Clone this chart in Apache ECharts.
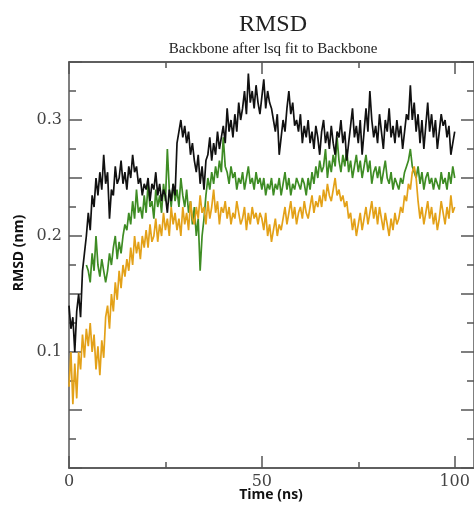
<!DOCTYPE html>
<html><head><meta charset="utf-8">
<script src="https://cdn.jsdelivr.net/npm/echarts@6/dist/echarts.min.js"></script>
<style>html,body{margin:0;padding:0;background:#fff}#c{width:474px;height:505px}</style>
</head><body><div id="c"></div>
<script>
// time step of the sampled points (ns)
const STEP = 0.5;
const titleText = 'RMSD';
const subtitleText = 'Backbone after lsq fit to Backbone';
const xName = 'Time (ns)';
const yName = 'RMSD (nm)';
const xMajorTicks = [0, 50, 100];
const xMinorTicks = [25, 75];
const yLabelTicks = [0.1, 0.2, 0.3];

const black = [
0.14,0.12,0.13,0.10,0.135,0.15,0.13,0.17,0.185,0.2,
0.22,0.205,0.235,0.225,0.25,0.235,0.255,0.24,0.27,0.245,
0.255,0.215,0.24,0.235,0.26,0.245,0.25,0.265,0.245,0.255,
0.24,0.26,0.25,0.27,0.255,0.26,0.245,0.25,0.235,0.245,
0.24,0.25,0.23,0.245,0.24,0.255,0.235,0.245,0.23,0.24,
0.235,0.22,0.24,0.23,0.245,0.235,0.28,0.29,0.3,0.285,
0.295,0.28,0.29,0.27,0.28,0.265,0.255,0.27,0.245,0.26,
0.24,0.265,0.27,0.285,0.265,0.28,0.27,0.29,0.275,0.285,
0.295,0.28,0.31,0.29,0.3,0.285,0.305,0.29,0.315,0.3,
0.31,0.325,0.305,0.34,0.315,0.325,0.31,0.33,0.315,0.305,
0.32,0.335,0.31,0.325,0.315,0.31,0.3,0.29,0.305,0.27,
0.285,0.3,0.29,0.31,0.325,0.305,0.315,0.295,0.3,0.29,
0.305,0.28,0.295,0.285,0.3,0.28,0.29,0.275,0.295,0.285,
0.27,0.29,0.3,0.28,0.29,0.275,0.295,0.28,0.27,0.29,
0.285,0.3,0.28,0.29,0.265,0.28,0.295,0.31,0.285,0.295,
0.28,0.3,0.27,0.29,0.31,0.29,0.325,0.3,0.285,0.295,
0.28,0.305,0.29,0.275,0.3,0.29,0.31,0.285,0.295,0.28,
0.3,0.285,0.295,0.275,0.29,0.305,0.3,0.33,0.3,0.315,
0.29,0.305,0.28,0.3,0.275,0.295,0.315,0.29,0.305,0.285,
0.3,0.275,0.29,0.305,0.295,0.3,0.285,0.295,0.27,0.28,
0.29
];

// green is not visible before ~4.5 ns in the picture
const green = [
null,null,null,null,null,null,null,null,null,0.175,
0.17,0.16,0.185,0.17,0.2,0.175,0.165,0.18,0.17,0.16,
0.17,0.185,0.175,0.19,0.2,0.18,0.195,0.185,0.2,0.21,
0.205,0.22,0.21,0.23,0.215,0.24,0.22,0.225,0.215,0.235,
0.22,0.245,0.225,0.23,0.215,0.24,0.225,0.235,0.22,0.245,
0.23,0.275,0.24,0.225,0.245,0.23,0.24,0.225,0.25,0.235,
0.225,0.24,0.22,0.23,0.21,0.225,0.2,0.215,0.17,0.2,
0.215,0.235,0.25,0.24,0.255,0.245,0.26,0.25,0.265,0.255,
0.285,0.26,0.255,0.245,0.26,0.25,0.255,0.24,0.25,0.245,
0.255,0.24,0.25,0.26,0.245,0.25,0.24,0.255,0.245,0.25,
0.24,0.25,0.235,0.245,0.24,0.25,0.235,0.245,0.24,0.25,
0.235,0.245,0.255,0.24,0.25,0.235,0.245,0.24,0.25,0.245,
0.24,0.25,0.245,0.235,0.25,0.24,0.255,0.245,0.26,0.25,
0.265,0.255,0.26,0.275,0.25,0.265,0.255,0.27,0.26,0.285,
0.265,0.255,0.27,0.26,0.275,0.255,0.265,0.25,0.26,0.27,
0.255,0.265,0.25,0.26,0.27,0.255,0.265,0.245,0.255,0.26,
0.25,0.26,0.245,0.255,0.265,0.25,0.245,0.255,0.24,0.25,
0.245,0.24,0.25,0.245,0.255,0.26,0.265,0.275,0.26,0.255,
0.25,0.26,0.245,0.255,0.24,0.25,0.255,0.245,0.25,0.24,
0.25,0.245,0.24,0.255,0.245,0.25,0.24,0.255,0.245,0.26,
0.25
];

const orange = [
0.07,0.1,0.055,0.09,0.06,0.1,0.085,0.115,0.095,0.12,
0.105,0.125,0.1,0.115,0.085,0.105,0.08,0.11,0.095,0.13,
0.14,0.12,0.15,0.135,0.16,0.145,0.17,0.155,0.175,0.165,
0.18,0.17,0.19,0.175,0.2,0.185,0.195,0.18,0.2,0.19,
0.205,0.19,0.21,0.195,0.2,0.215,0.195,0.21,0.2,0.22,
0.205,0.215,0.2,0.225,0.21,0.22,0.205,0.215,0.2,0.225,
0.21,0.22,0.205,0.23,0.215,0.21,0.225,0.215,0.235,0.22,
0.225,0.21,0.23,0.215,0.225,0.24,0.22,0.23,0.21,0.225,
0.22,0.23,0.215,0.225,0.21,0.22,0.215,0.23,0.22,0.21,
0.215,0.225,0.205,0.22,0.21,0.225,0.215,0.22,0.21,0.22,
0.215,0.205,0.22,0.2,0.21,0.195,0.205,0.215,0.2,0.21,
0.205,0.215,0.225,0.21,0.22,0.23,0.215,0.225,0.21,0.22,
0.225,0.215,0.23,0.22,0.215,0.225,0.235,0.22,0.23,0.225,
0.235,0.225,0.24,0.23,0.245,0.235,0.23,0.24,0.25,0.235,
0.24,0.23,0.235,0.225,0.23,0.215,0.22,0.205,0.215,0.2,
0.21,0.22,0.205,0.215,0.225,0.21,0.22,0.23,0.215,0.225,
0.21,0.225,0.215,0.205,0.22,0.21,0.2,0.215,0.205,0.22,
0.21,0.215,0.225,0.22,0.235,0.23,0.245,0.24,0.255,0.26,
0.25,0.23,0.215,0.225,0.21,0.22,0.23,0.215,0.225,0.21,
0.22,0.205,0.215,0.23,0.22,0.21,0.225,0.215,0.235,0.22,
0.225
];

const toPairs = arr => arr.map((v, i) => [i * STEP, v]);

const AX = '#555';
const X_MIN = 0, X_MAX = 105, Y_MIN = 0, Y_MAX = 0.35;
const labelFont = {fontFamily: 'DejaVu Serif', fontSize: 16, color: '#444'};

function xAxisDef(pos, ticks, len, labels) {
  return {
    type: 'value', position: pos, min: X_MIN, max: X_MAX,
    axisLine: {show: true, onZero: false, lineStyle: {color: AX, width: 1.5}},
    axisTick: {show: true, inside: true, length: len, customValues: ticks, lineStyle: {color: AX, width: 1.5}},
    axisLabel: labels ? Object.assign({show: true, margin: 6, customValues: xMajorTicks}, labelFont) : {show: false},
    splitLine: {show: false}, minorTick: {show: false}
  };
}
function yAxisDef(pos, labels) {
  return {
    type: 'value', position: pos, min: Y_MIN, max: Y_MAX, interval: 0.05,
    axisLine: {show: true, onZero: false, lineStyle: {color: AX, width: 1.5}},
    axisTick: {show: true, inside: true, length: 13, lineStyle: {color: AX, width: 1.5}},
    minorTick: {show: true, splitNumber: 2, length: 7, lineStyle: {color: AX, width: 1.5}},
    axisLabel: labels ? Object.assign({show: true, margin: 7, customValues: yLabelTicks,
      formatter: v => v.toFixed(1)}, labelFont) : {show: false},
    splitLine: {show: false}
  };
}

const chart = echarts.init(document.getElementById('c'), null, {renderer: 'canvas'});
chart.setOption({
  animation: false,
  backgroundColor: '#fff',
  grid: {left: 69, right: 0, top: 62, bottom: 37, containLabel: false, outerBoundsMode: 'none'},
  xAxis: [
    xAxisDef('bottom', xMajorTicks, 12, true),
    xAxisDef('bottom', xMinorTicks, 6, false),
    xAxisDef('top', xMajorTicks, 12, false),
    xAxisDef('top', xMinorTicks, 6, false)
  ],
  yAxis: [yAxisDef('left', true), yAxisDef('right', false)],
  graphic: [
    {type: 'text', x: 273, y: 25, style: {text: titleText, font: '24px "Liberation Serif"', fill: '#222', textAlign: 'center', textVerticalAlign: 'middle'}},
    {type: 'text', x: 273, y: 49, style: {text: subtitleText, font: '15px "Liberation Serif"', fill: '#222', textAlign: 'center', textVerticalAlign: 'middle'}},
    {type: 'text', x: 271, y: 495, style: {text: xName, font: 'bold 14px "Open Sans"', fill: '#111', textAlign: 'center', textVerticalAlign: 'middle'}},
    {type: 'text', x: 19, y: 253, rotation: Math.PI / 2, style: {text: yName, font: 'bold 14px "Open Sans"', fill: '#111', textAlign: 'center', textVerticalAlign: 'middle'}}
  ],
  series: [
    {type: 'line', name: 'green', data: toPairs(green), showSymbol: false, symbol: 'none', connectNulls: false, lineStyle: {color: '#3e8c24', width: 1.7}, xAxisIndex: 0, yAxisIndex: 0, z: 2},
    {type: 'line', name: 'orange', data: toPairs(orange), showSymbol: false, symbol: 'none', lineStyle: {color: '#e3a118', width: 1.7}, xAxisIndex: 0, yAxisIndex: 0, z: 3},
    {type: 'line', name: 'black', data: toPairs(black), showSymbol: false, symbol: 'none', lineStyle: {color: '#111', width: 1.7}, xAxisIndex: 0, yAxisIndex: 0, z: 4}
  ]
});
</script>
</body></html>
